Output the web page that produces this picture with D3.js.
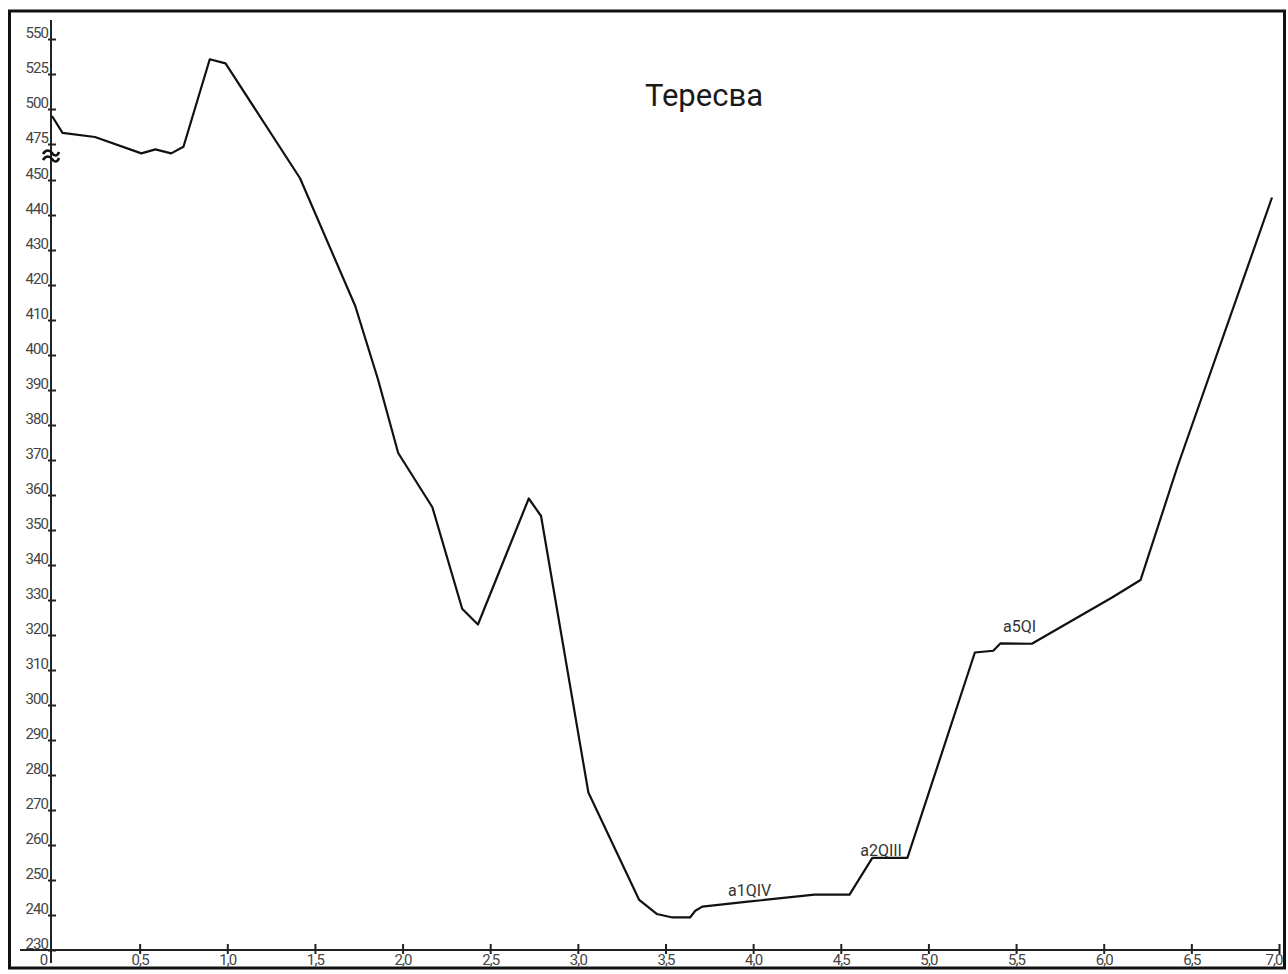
<!DOCTYPE html>
<html>
<head>
<meta charset="utf-8">
<script src="https://cdn.jsdelivr.net/npm/d3@7/dist/d3.min.js"></script>
<style>
  html, body { margin: 0; padding: 0; background: #fff; }
  svg { display: block; }
  .tick text { font-family: Roboto, "Liberation Sans", sans-serif; font-size: 15px; letter-spacing: -0.9px; fill: #444; }
</style>
</head>
<body>
<svg id="chart" width="1288" height="974"></svg>
<script>
// Cross-section of the Тересва valley: distance (km) vs elevation (m)
const title = "Тересва";

const distance = [0, 0.06, 0.245, 0.51, 0.59, 0.68, 0.75, 0.90, 0.99, 1.415,
  1.73, 1.86, 1.975, 2.17, 2.34, 2.43, 2.72, 2.79, 3.06, 3.35,
  3.45, 3.54, 3.64, 3.67, 3.71, 3.97, 4.35, 4.55, 4.68, 4.88,
  5.265, 5.37, 5.41, 5.59, 6.05, 6.21, 6.42, 6.96];
const elevation = [495, 483, 480, 468.5, 471.3, 468.5, 473.1, 535.5, 532.6, 451.2,
  414, 393, 372, 356.5, 327.5, 323, 359, 354, 275, 244.3,
  240.3, 239.3, 239.3, 241.2, 242.4, 243.8, 245.8, 245.8, 256.3, 256.3,
  315, 315.5, 317.6, 317.5, 330.8, 335.7, 368, 445];

// Terrace labels and the profile points they sit above
const terraceNames = ["a1QIV", "a2QIII", "a5QI"];
const terraceX = [3.98, 4.73, 5.52];
const terraceY = [245.5, 256.9, 320.9];

const yTickValues = [230, 240, 250, 260, 270, 280, 290, 300, 310, 320, 330, 340,
  350, 360, 370, 380, 390, 400, 410, 420, 430, 440, 450, 475, 500, 525, 550];
const xTickValues = [0.5, 1.0, 1.5, 2.0, 2.5, 3.0, 3.5, 4.0, 4.5, 5.0, 5.5, 6.0, 6.5, 7.0];

const svg = d3.select("#chart");

// Horizontal: km along the profile
const x = d3.scaleLinear().domain([0, 7]).range([52, 1279]);
// Vertical: broken axis, compressed above the ≈ gap (450 → 475)
const y = d3.scaleLinear().domain([230, 450, 475, 550]).range([950, 180, 144, 39]);

// Outer frame
svg.append("rect")
  .attr("x", 9.5).attr("y", 11).attr("width", 1275).attr("height", 957)
  .attr("fill", "#fff").attr("stroke", "#111").attr("stroke-width", 3);

// Title
svg.append("text")
  .attr("x", 704).attr("y", 106)
  .attr("text-anchor", "middle")
  .attr("font-family", "Roboto, 'Noto Sans', sans-serif")
  .attr("font-size", 31)
  .attr("fill", "#1a1a1a")
  .text(title);

// Y axis
const yAxis = d3.axisLeft(y).tickValues(yTickValues).tickSizeOuter(0).tickFormat(d3.format("d"));
const gy = svg.append("g").attr("transform", `translate(${x(0) - 1},0)`).call(yAxis);
gy.select(".domain").remove();
gy.selectAll(".tick line").attr("x1", -3).attr("x2", 5).attr("stroke", "#222").attr("stroke-width", 2);
gy.selectAll(".tick text").attr("x", -3).attr("dy", -2);
gy.append("line")
  .attr("x1", 0).attr("x2", 0).attr("y1", 20).attr("y2", 963)
  .attr("stroke", "#222").attr("stroke-width", 2);

// Axis break mark (≈)
const breakY = (y(450) + y(475)) / 2 - 9;
[0, 6].forEach(off => {
  svg.append("path")
    .attr("d", `M${x(0) - 9},${breakY + off + 1} C${x(0) - 6},${breakY + off - 4} ${x(0) - 2},${breakY + off - 3} ${x(0)},${breakY + off} S${x(0) + 5},${breakY + off + 4} ${x(0) + 7},${breakY + off - 1}`)
    .attr("fill", "none").attr("stroke", "#111").attr("stroke-width", 2.6);
});

// X axis
const commaFmt = d3.formatLocale({ decimal: ",", thousands: " ", grouping: [3], currency: ["", ""] }).format(".1f");
const xAxis = d3.axisBottom(x).tickValues(xTickValues).tickSizeOuter(0).tickFormat(commaFmt);
const gx = svg.append("g").attr("transform", `translate(0,${y(230)})`).call(xAxis);
gx.select(".domain").remove();
gx.selectAll(".tick line").attr("y1", -6).attr("y2", 4).attr("stroke", "#222").attr("stroke-width", 2);
gx.selectAll(".tick text").attr("y", 15).attr("dy", 0);
// last label tucked inside the frame
gx.selectAll(".tick text").filter(d => d === 7).attr("text-anchor", "end").attr("x", 3);
gx.append("line")
  .attr("x1", 20).attr("x2", x(7)).attr("y1", 0).attr("y2", 0)
  .attr("stroke", "#222").attr("stroke-width", 2);
gx.append("text")
  .attr("x", x(0) - 8).attr("y", 15)
  .attr("text-anchor", "middle")
  .attr("font-family", "Roboto, 'Liberation Sans', sans-serif")
  .attr("font-size", 15).attr("fill", "#444")
  .text("0");

// Profile line
const line = d3.line().x(d => x(d[0])).y(d => y(d[1]));
svg.append("path")
  .datum(distance.map((d, i) => [d, elevation[i]]))
  .attr("d", line)
  .attr("fill", "none").attr("stroke", "#111").attr("stroke-width", 2.2)
  .attr("stroke-linejoin", "round");

// Terrace labels
svg.selectAll(".terrace").data(terraceNames).join("text")
  .attr("class", "terrace")
  .attr("x", (d, i) => x(terraceX[i]))
  .attr("y", (d, i) => y(terraceY[i]))
  .attr("text-anchor", "middle")
  .attr("font-family", "Roboto, 'Noto Sans', sans-serif")
  .attr("font-size", 16)
  .attr("fill", "#333")
  .text(d => d);
</script>
</body>
</html>
